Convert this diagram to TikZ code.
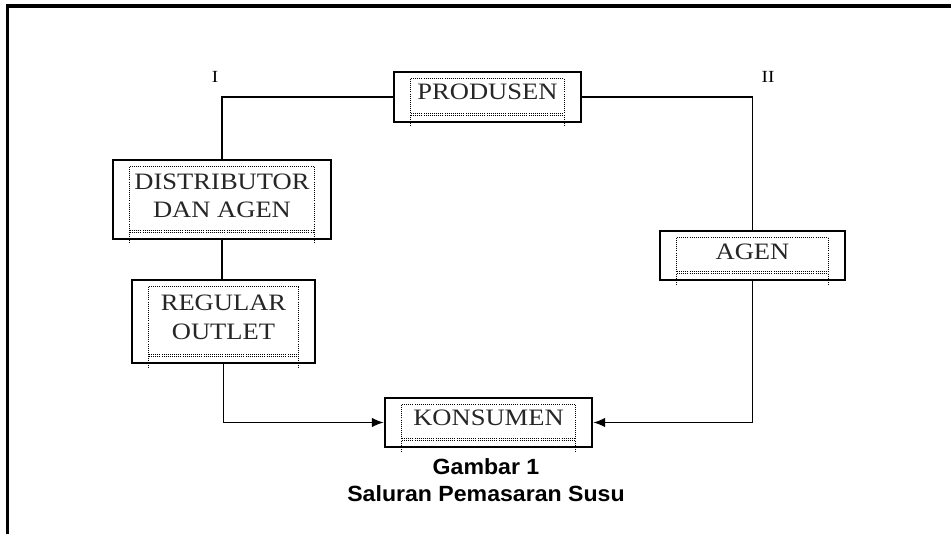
\documentclass[tikz,border=0pt]{standalone}
\usepackage{fontspec}
\setmainfont{Liberation Serif}
\newfontfamily\boxfont[FakeStretch=1.13]{Liberation Serif}
\newfontfamily\capfont[FakeStretch=1.05]{Liberation Sans}
\usetikzlibrary{arrows.meta}
\newcommand\innerdots[1]{%
  \draw[dotline] ([xshift=18pt,yshift=-8pt]#1.north west) -- ([xshift=-18pt,yshift=-8pt]#1.north east);
  \draw[dotline] ([xshift=18pt,yshift=-8pt]#1.north west) -- ([xshift=18pt,yshift=-4pt]#1.south west);
  \draw[dotline] ([xshift=-18pt,yshift=-8pt]#1.north east) -- ([xshift=-18pt,yshift=-4pt]#1.south east);
  \draw[dotline] ([xshift=18pt,yshift=10pt]#1.south west) -- ([xshift=-18pt,yshift=10pt]#1.south east);
  \draw[dotline] ([xshift=18pt,yshift=7.5pt]#1.south west) -- ([xshift=-18pt,yshift=7.5pt]#1.south east);
}
\begin{document}
\begin{tikzpicture}[x=1pt,y=-1pt,
  box/.style={draw, line width=2.2pt, inner sep=0pt, rectangle},
  boxtext/.style={font=\boxfont\fontsize{23.5}{28.5}\selectfont, align=center, inner sep=0pt, text=black!85},
  lbl/.style={font=\boxfont\fontsize{17}{20}\selectfont, inner sep=0pt},
  captext/.style={font=\capfont\bfseries\fontsize{22}{26}\selectfont, inner sep=0pt},
  dotline/.style={line width=1.1pt, dash pattern=on 1pt off 1.1pt},
  conn/.style={line width=1.9pt},
  arr/.style={conn, -{Latex[length=12pt,width=9.5pt]}},
  frame/.style={line width=3.5pt, line join=miter}]
\useasboundingbox (0,0) rectangle (951,534);
\fill[white] (0,0) rectangle (951,534);
\draw[frame] (7.5,534) -- (7.5,6) -- (951,6);

% boxes
\node[box, minimum width=187pt, minimum height=50pt] (prod) at (487.5,97) {};
\node[box, minimum width=218pt, minimum height=79pt] (dist) at (222,199.5) {};
\node[box, minimum width=183pt, minimum height=83pt] (reg) at (223.5,321.5) {};
\node[box, minimum width=185pt, minimum height=49pt] (agen) at (752.5,255.5) {};
\node[box, minimum width=207pt, minimum height=49pt] (kons) at (488.5,422.5) {};

% texts
\node[boxtext] (prodt) at (487.5,92) {PRODUSEN};
\node[boxtext] (distt) at (222,196) {DISTRIBUTOR\\DAN AGEN};
\node[boxtext] (regt) at (223.5,317.5) {REGULAR\\OUTLET};
\node[boxtext] (agent) at (752.5,252) {AGEN};
\node[boxtext] (konst) at (488.5,418) {KONSUMEN};

\innerdots{prod}
\innerdots{dist}
\innerdots{reg}
\innerdots{agen}
\innerdots{kons}

% connectors
\draw[conn] (prod.west) -| (dist.north);
\draw[conn] (dist.south) -- (dist.south |- reg.north);
\draw[arr] (reg.south) |- (kons.west);
\draw[conn] (prod.east) -| (agen.north);
\draw[arr] (agen.south) |- (kons.east);

% labels
\node[lbl] (l1) at (215,77) {I};
\node[lbl] (l2) at (768,77) {II};

% caption
\node[captext] (cap1) at (486,467) {Gambar 1};
\node[captext] (cap2) at (486,494) {Saluran Pemasaran Susu};
\end{tikzpicture}
\end{document}
